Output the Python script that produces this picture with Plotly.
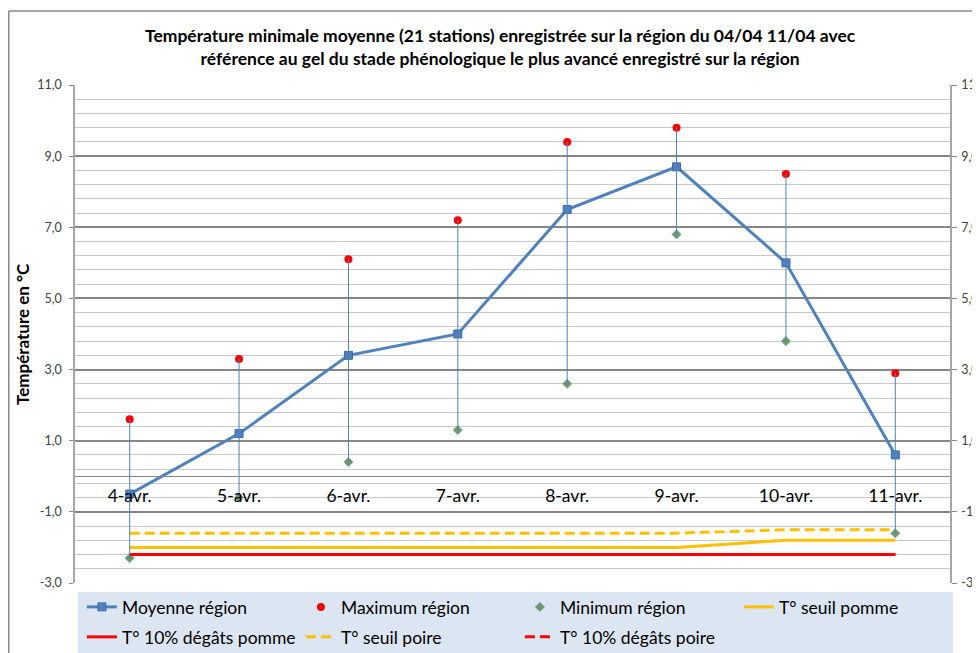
import plotly.graph_objects as go

categories = ["4-avr.", "5-avr.", "6-avr.", "7-avr.", "8-avr.", "9-avr.", "10-avr.", "11-avr."]
moyenne = [-0.5, 1.2, 3.4, 4.0, 7.5, 8.7, 6.0, 0.6]
maximum = [1.6, 3.3, 6.1, 7.2, 9.4, 9.8, 8.5, 2.9]
minimum = [-2.3, -0.6, 0.4, 1.3, 2.6, 6.8, 3.8, -1.6]
seuil_pomme = [-2.0, -2.0, -2.0, -2.0, -2.0, -2.0, -1.8, -1.8]
degats_pomme = [-2.2, -2.2, -2.2, -2.2, -2.2, -2.2, -2.2, -2.2]
seuil_poire = [-1.6, -1.6, -1.6, -1.6, -1.6, -1.6, -1.5, -1.5]
degats_poire = [-2.2, -2.2, -2.2, -2.2, -2.2, -2.2, -2.2, -2.2]

y_min, y_max = -3, 11
tick_vals = [-3, -1, 1, 3, 5, 7, 9, 11]
tick_text = ["-3,0", "-1,0", "1,0", "3,0", "5,0", "7,0", "9,0", "11,0"]

FONT = "Lato"
BLUE = "#4F81BD"
DASH = "10px,5px"

fig = go.Figure()

# high-low lines
hx, hy = [], []
for c, hi, lo in zip(categories, maximum, minimum):
    hx += [c, c, None]
    hy += [hi, lo, None]
fig.add_trace(go.Scatter(x=hx, y=hy, mode="lines", line=dict(color=BLUE, width=1),
                         showlegend=False, hoverinfo="skip", yaxis="y2"))

fig.add_trace(go.Scatter(x=categories, y=moyenne, name="Moyenne région", mode="lines+markers",
                         line=dict(color=BLUE, width=3), legend="legend",
                         marker=dict(symbol="square", size=8, color=BLUE,
                                     line=dict(color="#3A6DAA", width=1))))
fig.add_trace(go.Scatter(x=categories, y=maximum, name="Maximum région", mode="markers",
                         legend="legend",
                         marker=dict(symbol="circle", size=8, color="#FF0000")))
fig.add_trace(go.Scatter(x=categories, y=minimum, name="Minimum région", mode="markers",
                         legend="legend",
                         marker=dict(symbol="diamond", size=7, color="#6E9B5A",
                                     line=dict(color="#7A9FC8", width=1))))
fig.add_trace(go.Scatter(x=categories, y=seuil_pomme, name="T° seuil pomme", mode="lines",
                         legend="legend", line=dict(color="#FFC000", width=3)))
fig.add_trace(go.Scatter(x=categories, y=degats_pomme, name="T° 10% dégâts pomme", mode="lines",
                         legend="legend2", line=dict(color="#FF0000", width=3)))
fig.add_trace(go.Scatter(x=categories, y=seuil_poire, name="T° seuil poire", mode="lines",
                         legend="legend2", line=dict(color="#FFC000", width=3, dash=DASH)))
fig.add_trace(go.Scatter(x=categories, y=degats_poire, name="T° 10% dégâts poire", mode="lines",
                         legend="legend2", line=dict(color="#FF0000", width=3, dash=DASH)))

legend_common = dict(
    orientation="h", xanchor="left", yanchor="middle",
    bgcolor="rgba(0,0,0,0)", font=dict(size=17.5, color="#000000", family=FONT),
    entrywidth=174, entrywidthmode="pixels",
)

# The page adds an 8px body margin; the figure is drawn larger than the window so the
# legend never forces plotly to shrink the plot area (the extra part is out of view).
fig.update_layout(
    width=980, height=700,
    margin=dict(l=67, r=38, t=77, b=125),
    paper_bgcolor="white", plot_bgcolor="white",
    font=dict(family=FONT, color="#000000"),
    showlegend=True,
    xaxis=dict(
        type="category", range=[-0.5, len(categories) - 0.5],
        anchor="free", position=(0 - y_min) / (y_max - y_min),
        showline=True, linecolor="#868686", linewidth=1,
        showgrid=False, ticks="", ticklabelstandoff=4,
        tickfont=dict(size=17.5, color="#000000"), automargin=False,
    ),
    yaxis=dict(
        range=[y_min, y_max], tickvals=tick_vals, ticktext=tick_text,
        showgrid=True, gridcolor="#868686", gridwidth=2,
        minor=dict(dtick=0.4, tick0=-3, showgrid=True, gridcolor="#C8C8C8", gridwidth=1),
        zeroline=False, showline=True, linecolor="#A6A6A6", linewidth=1.5,
        ticks="outside", ticklen=4, tickcolor="#868686", ticklabelstandoff=5,
        tickfont=dict(size=12.5, color="#404040"), automargin=False,
    ),
    yaxis2=dict(
        range=[y_min, y_max], tickvals=tick_vals, ticktext=tick_text,
        overlaying="y", side="right", showgrid=False, zeroline=False,
        showline=True, linecolor="#A6A6A6", linewidth=1.5,
        ticks="outside", ticklen=5, tickcolor="#868686", ticklabelstandoff=2,
        tickfont=dict(size=12.5, color="#404040"), automargin=False,
    ),
    legend=dict(x=0.0079, y=-0.0482, **legend_common),
    legend2=dict(x=0.0079, y=-0.1084, **legend_common),
    annotations=[
        dict(text="<b>Température minimale moyenne (21 stations) enregistrée sur la région du 04/04 11/04 avec<br>référence au gel du stade phénologique le plus avancé enregistré sur la région</b>",
             xref="paper", yref="paper", x=0.486, y=1.0, yshift=38.5, xanchor="center", yanchor="middle",
             showarrow=False, font=dict(size=17.5, family=FONT, color="#000000")),
        dict(text="<b>Température en °C</b>", textangle=-90,
             xref="paper", yref="paper", x=-0.0606, y=0.5, xanchor="center", yanchor="middle",
             showarrow=False, font=dict(size=17, family=FONT, color="#000000")),
    ],
    shapes=[
        dict(type="rect", xref="paper", yref="paper", x0=0.0034, x1=1.0034, y0=-0.018, y1=-0.2,
             fillcolor="#DCE6F2", line=dict(width=0), layer="below"),
        dict(type="line", xref="paper", yref="paper", x0=-0.0757, x1=1.2, y0=1.1486, y1=1.1486,
             line=dict(color="#888888", width=1.5)),
        dict(type="line", xref="paper", yref="paper", x0=-0.0757, x1=-0.0757, y0=1.1486, y1=-0.25,
             line=dict(color="#888888", width=1.5)),
    ],
)

fig.write_html("out.html")
